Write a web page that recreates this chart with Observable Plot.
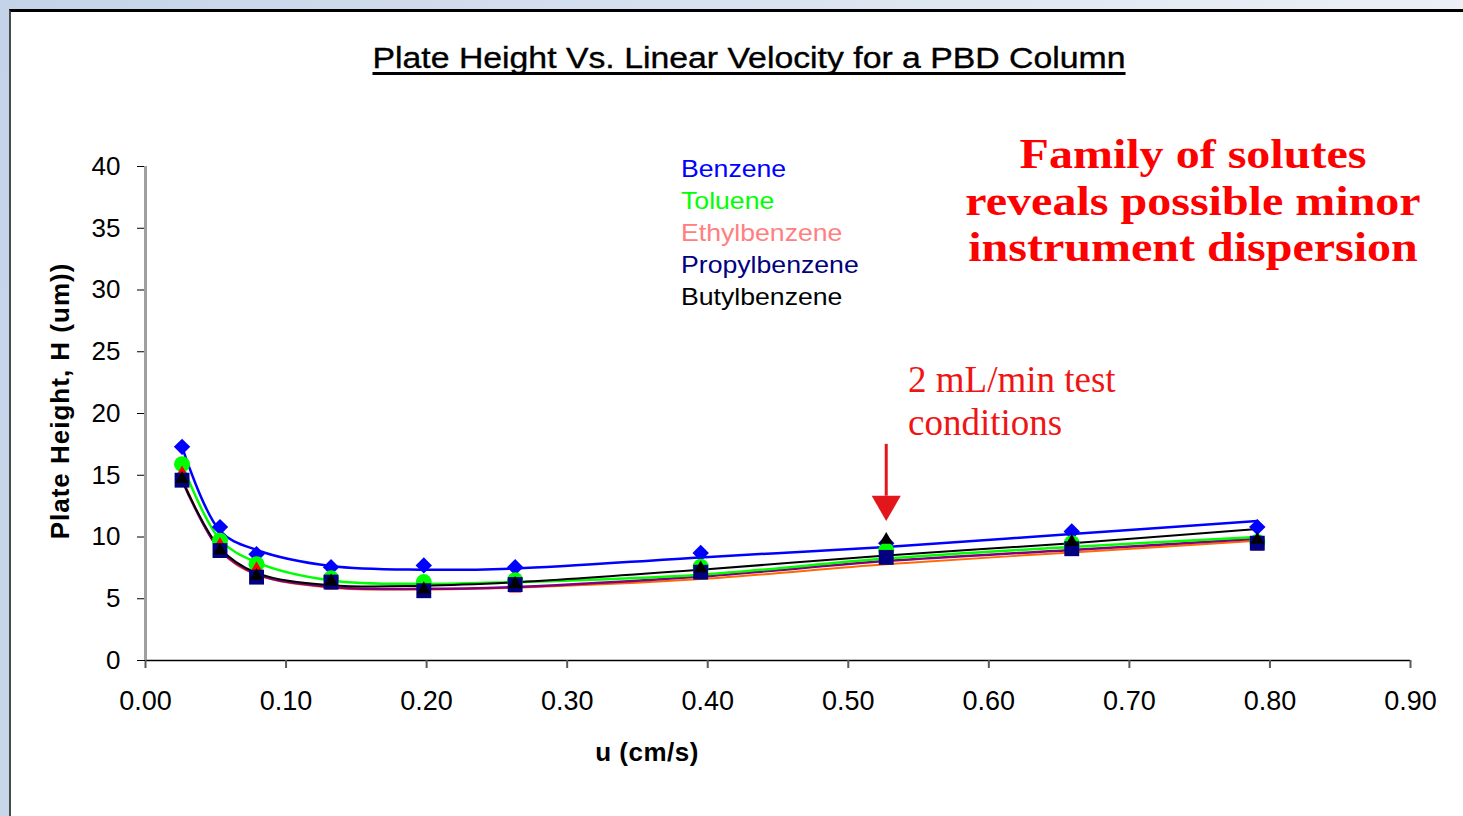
<!DOCTYPE html>
<html>
<head>
<meta charset="utf-8">
<script src="https://cdn.jsdelivr.net/npm/d3@7"></script>
<script src="https://cdn.jsdelivr.net/npm/@observablehq/plot@0.6"></script>
<style>
html, body { margin: 0; padding: 0; }
body {
  width: 1463px; height: 816px; overflow: hidden; position: relative;
  background: linear-gradient(100deg, #c4d3e8 0%, #d3deee 35%, #e4eaf3 70%, #f0f2f6 100%);
  font-family: "Liberation Sans", Arial, sans-serif;
}
#panel {
  position: absolute; left: 9px; top: 9px; width: 1480px; height: 830px;
  background: #fff; border-left: 2px solid #4a4a4a; border-top: 3px solid #000;
}
#chart { position: absolute; left: 0; top: 0; }
.t { position: absolute; white-space: nowrap; }
#title {
  left: 748.5px; top: 43.5px; font-size: 29px; line-height: 29px; color: #000;
  -webkit-text-stroke: 0.35px #000;
  text-decoration: underline; text-decoration-thickness: 3px; text-underline-offset: 4px;
  text-decoration-skip-ink: none;
  transform: translateX(-50%) scaleX(1.165);
}
#ylabel {
  left: 60px; top: 401px; font-size: 26px; font-weight: bold; line-height: 26px; letter-spacing: 1px;
  transform: translate(-50%, -50%) rotate(-90deg);
}
#xlabel {
  left: 647px; top: 752px; font-size: 26px; font-weight: bold; line-height: 26px; letter-spacing: 0.5px;
  transform: translate(-50%, -50%);
}
#legend { left: 681px; top: 153px; transform-origin: 0 0; transform: scaleX(1.11); }
#legend div { font-size: 24px; line-height: 32px; white-space: nowrap; }
#note {
  left: 1193px; top: 131px; transform: translateX(-50%) scaleX(1.13); text-align: center;
  font-family: "Liberation Serif", "Times New Roman", serif; font-weight: bold;
  font-size: 42.5px; line-height: 46.5px; color: #ff0000;
}
#cond {
  left: 908px; top: 357.5px;
  font-family: "Liberation Serif", "Times New Roman", serif;
  font-size: 37px; line-height: 43.5px; color: #f01515;
}
</style>
</head>
<body>
<div id="panel"></div>
<div id="chart"></div>
<div class="t" id="title">Plate Height Vs. Linear Velocity for a PBD Column</div>
<div class="t" id="ylabel">Plate Height, H (um))</div>
<div class="t" id="xlabel">u (cm/s)</div>
<div class="t" id="legend"></div>
<div class="t" id="note">Family of solutes<br>reveals possible minor<br>instrument dispersion</div>
<div class="t" id="cond">2 mL/min test<br>conditions</div>
<script>
// ---- data ----
const u = [0.026, 0.053, 0.079, 0.132, 0.198, 0.263, 0.395, 0.527, 0.659, 0.791];

const solutes = ["Benzene", "Toluene", "Ethylbenzene", "Propylbenzene", "Butylbenzene"];
const legendColors = ["#0000ff", "#00ff00", "#ff8080", "#000080", "#000000"];
const markerColors = ["#0000ff", "#00ff00", "#ff0000", "#000080", "#000000"];
const markerSymbols = ["diamond2", "circle", "triangle", "square", "triangle"];
const markerSizes = [7.4, 8, 4.7, 8.4, 5.1];
const lineColors = ["#0000ff", "#00ff00", "#ff6a00", "#800080", "#000000"];
const lineWidths = [2.5, 2.5, 2, 2.5, 2];

// measured plate heights (markers)
const benzeneH = [17.3, 10.8, 8.6, 7.55, 7.7, 7.55, 8.7, 9.5, 10.45, 10.8];
const tolueneH = [15.9, 9.7, 7.8, 6.65, 6.35, 6.5, 7.6, 8.9, 9.5, 9.6];
const ethylbenzeneH = [15.2, 9.4, 7.45, 6.05, 5.8, 5.8, 6.9, 8.1, 8.9, 9.2];
const propylbenzeneH = [14.6, 8.9, 6.75, 6.35, 5.65, 6.15, 7.15, 8.35, 9.05, 9.5];
const butylbenzeneH = [14.7, 8.9, 6.85, 6.4, 5.75, 6.2, 7.45, 9.77, 9.6, 9.77];

// fitted curves (lines)
const benzeneFit = [17.3, 10.5, 8.95, 7.65, 7.35, 7.45, 8.35, 9.2, 10.25, 11.3];
const tolueneFit = [15.9, 9.8, 7.95, 6.48, 6.2, 6.35, 6.95, 8.25, 9.2, 10.0];
const ethylbenzeneFit = [14.8, 8.9, 6.95, 5.9, 5.75, 5.9, 6.6, 7.8, 8.75, 9.7];
const propylbenzeneFit = [14.6, 8.95, 7.0, 5.95, 5.8, 5.95, 6.8, 8.05, 8.95, 9.85];
const butylbenzeneFit = [14.6, 9.1, 7.1, 6.1, 6.05, 6.33, 7.35, 8.5, 9.5, 10.65];

const xTicks = [0, 0.1, 0.2, 0.3, 0.4, 0.5, 0.6, 0.7, 0.8, 0.9];
const yTicks = [0, 5, 10, 15, 20, 25, 30, 35, 40];

// annotation arrow (points at the 2 mL/min data column)
const arrowX = [0.527];
const arrowShaft = [17.5, 13.3];
const arrowHeadY = [12.65];

// ---- build tables ----
const markerSeries = [benzeneH, tolueneH, ethylbenzeneH, propylbenzeneH, butylbenzeneH];
const fitSeries = [benzeneFit, tolueneFit, ethylbenzeneFit, propylbenzeneFit, butylbenzeneFit];
const toRows = (vals, i) => vals.map((h, j) => ({u: u[j], h, solute: solutes[i]}));

// legend
const legend = document.getElementById("legend");
solutes.forEach((s, i) => {
  const d = document.createElement("div");
  d.textContent = s;
  d.style.color = legendColors[i];
  legend.appendChild(d);
});

const lineOrder = [2, 3, 1, 4, 0];
const marks = [
  Plot.ruleY([0], {stroke: "#000", strokeWidth: 1.5}),
  Plot.axisX({ticks: xTicks, tickSize: 8, tickFormat: () => "", color: "#5a5a5a", strokeWidth: 2, label: null}),
  Plot.axisX({ticks: xTicks, tickSize: 0, tickPadding: 30, tickFormat: d3.format(".2f"), fontSize: 27, color: "#000", label: null}),
  Plot.axisY({ticks: yTicks, tickSize: 8, tickPadding: 17, fontSize: 26, color: "#000", label: null}),
  Plot.ruleX([0], {y1: 0, y2: 40, stroke: "#a0a0a0", strokeWidth: 3}),
  ...lineOrder.map(i => Plot.line(toRows(fitSeries[i], i), {
    x: "u", y: "h", stroke: lineColors[i], strokeWidth: lineWidths[i], curve: "catmull-rom"
  })),
  ...solutes.map((s, i) => Plot.dot(toRows(markerSeries[i], i), {
    x: "u", y: "h", symbol: markerSymbols[i], r: markerSizes[i], fill: markerColors[i], stroke: "none"
  })),
  Plot.ruleX(arrowX, {y1: arrowShaft[0], y2: arrowShaft[1], stroke: "#e3171b", strokeWidth: 3}),
  Plot.dot(arrowX, {x: d => d, y: () => arrowHeadY[0], symbol: "triangle", r: 10.8, fill: "#e3171b", rotate: 180})
];

const chart = Plot.plot({
  width: 1463, height: 816,
  marginLeft: 145, marginRight: 53, marginTop: 166, marginBottom: 156,
  x: {domain: [0, 0.9]},
  y: {domain: [0, 40]},
  style: {background: "transparent", fontFamily: "'Liberation Sans', Arial, sans-serif", color: "#000", overflow: "visible"},
  marks
});
document.getElementById("chart").appendChild(chart);
</script>
</body>
</html>
